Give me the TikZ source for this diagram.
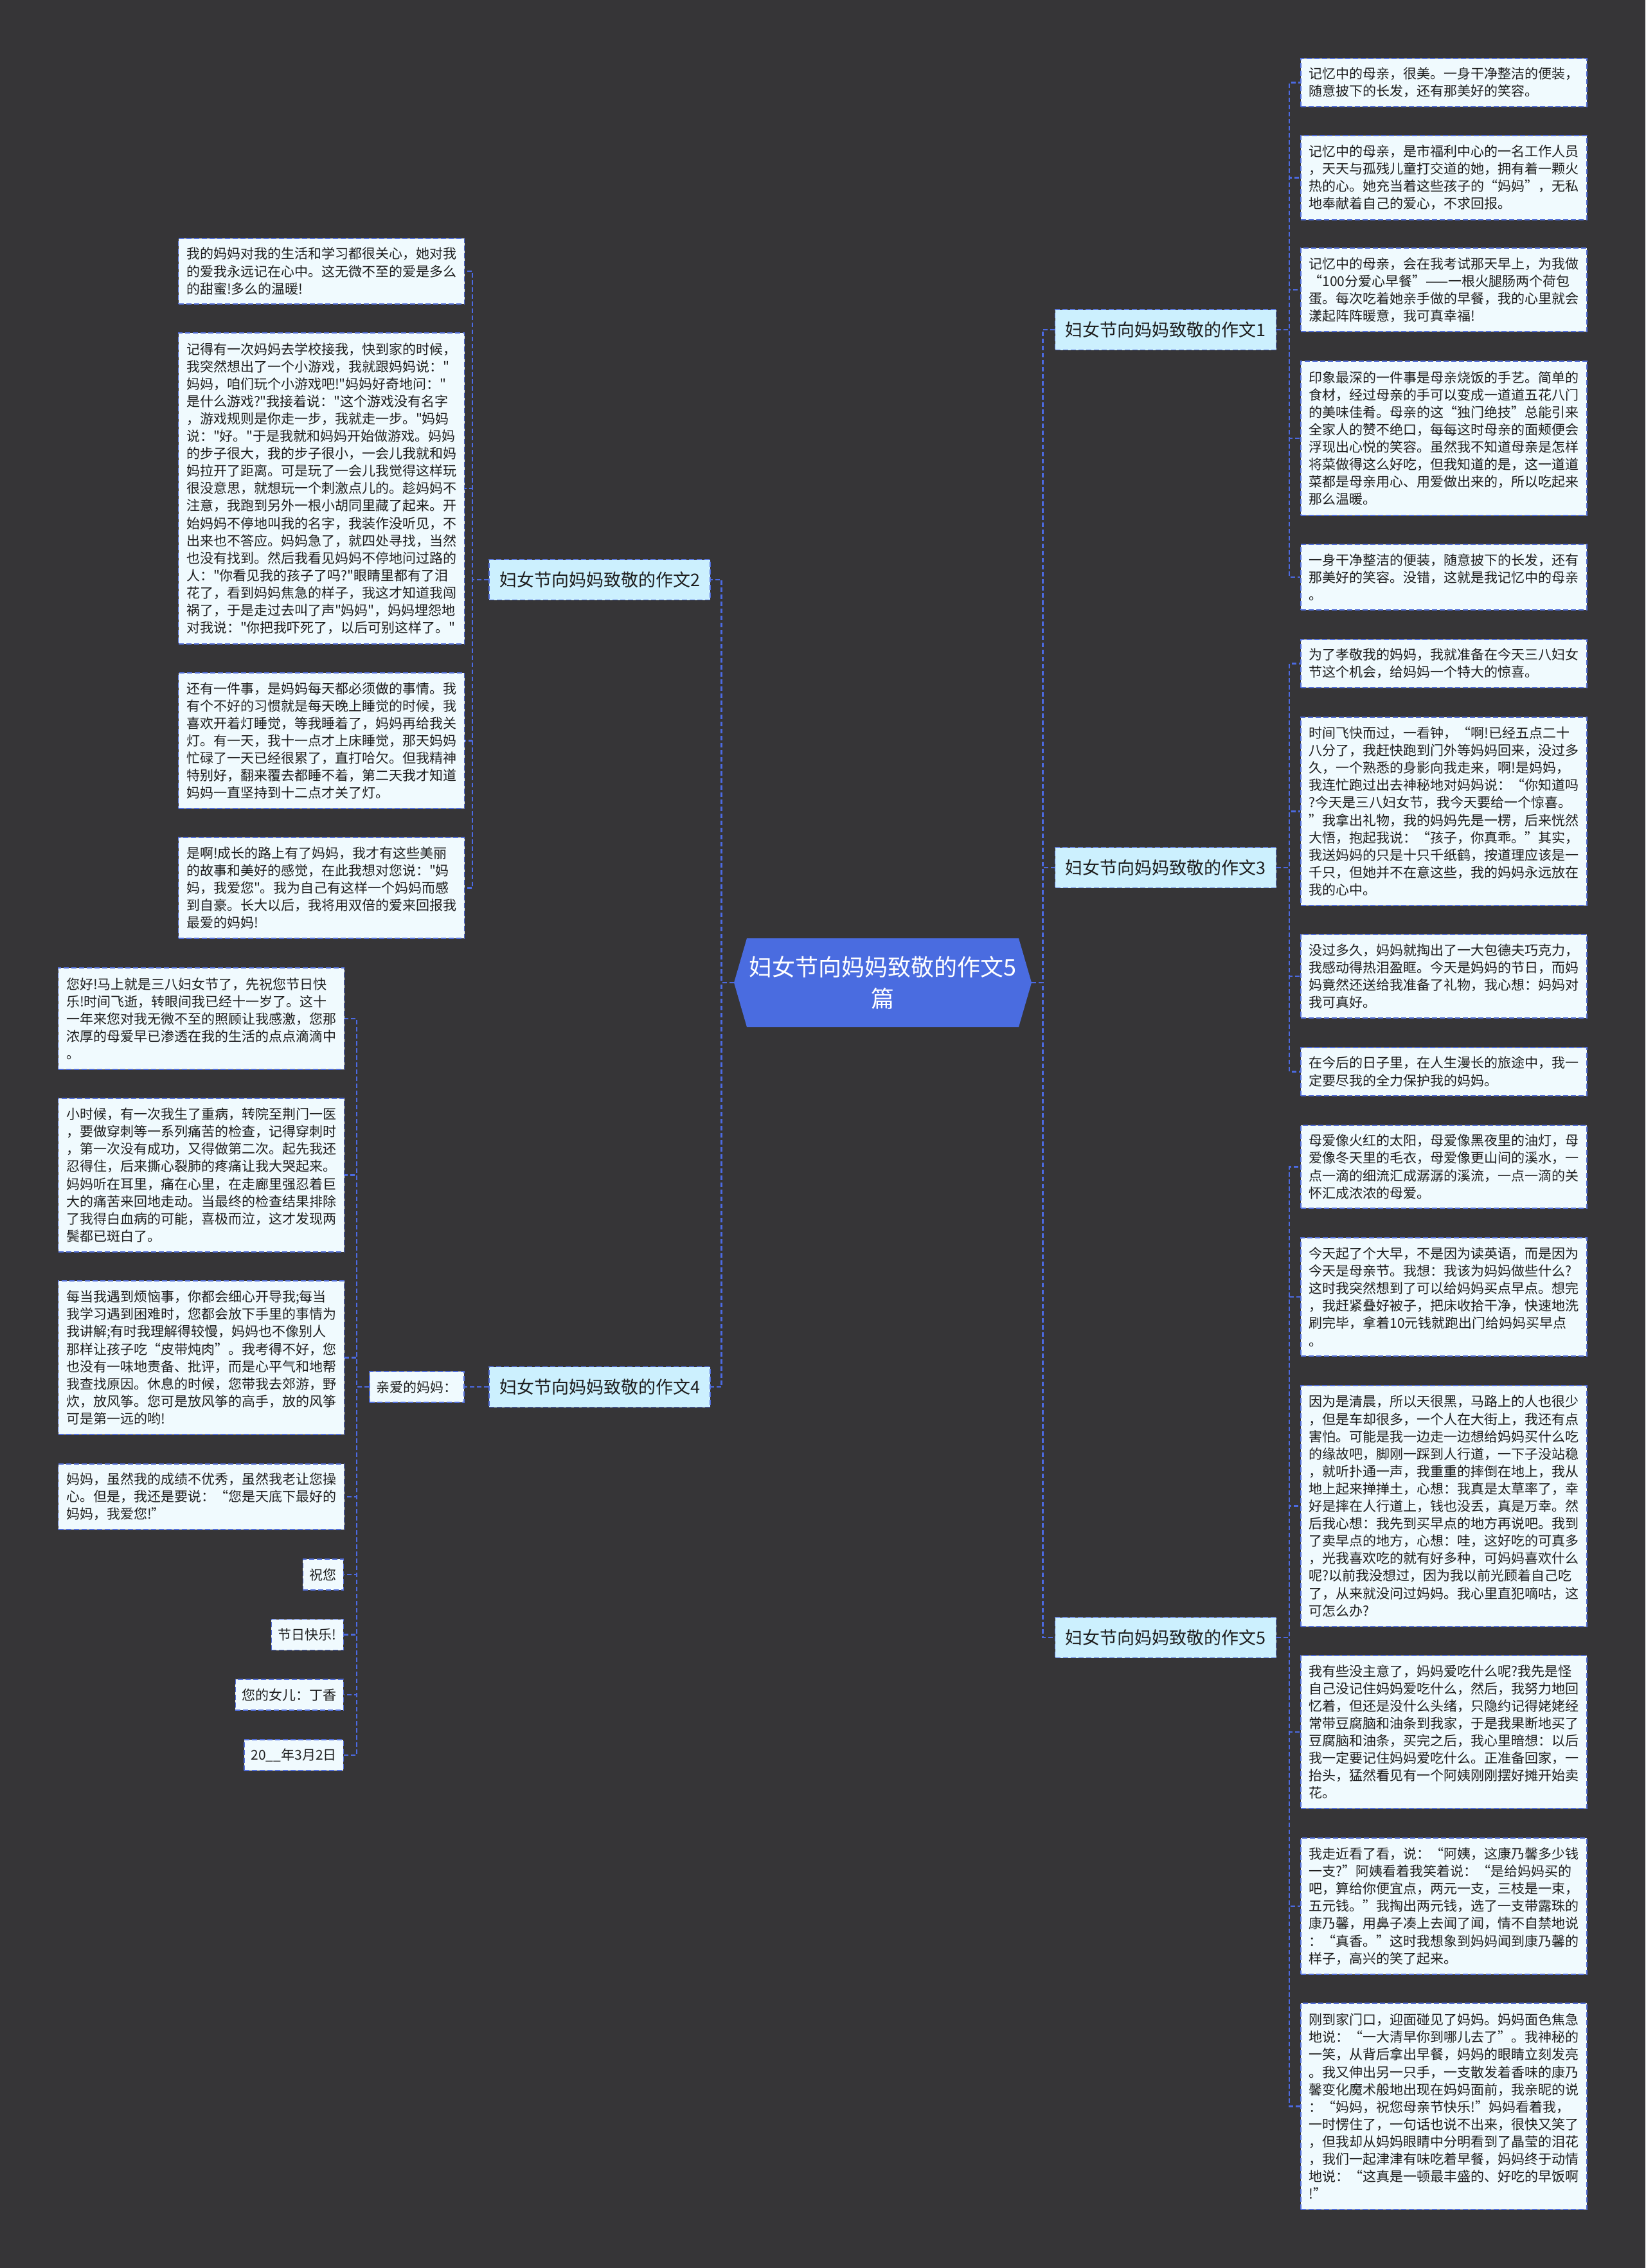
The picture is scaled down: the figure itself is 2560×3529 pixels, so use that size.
\documentclass[tikz,border=0pt]{standalone}
\usepackage{fontspec}
\setmainfont{Noto Sans CJK SC}
\newfontfamily\cjk{Noto Sans CJK SC}
\definecolor{bgc}{RGB}{54,53,55}
\definecolor{leafc}{RGB}{240,250,254}
\definecolor{branchc}{RGB}{204,240,254}
\definecolor{borderc}{RGB}{82,110,218}
\definecolor{linec}{RGB}{76,106,226}
\definecolor{centerc}{RGB}{74,108,224}
\definecolor{textc}{RGB}{30,30,30}
\begin{document}
\begin{tikzpicture}[x=0.5pt,y=-0.5pt,
  conn/.style={draw=linec, line width=1.2pt, dash pattern=on 3.5pt off 2pt},
  boxbase/.style={draw=borderc, line width=0.75pt, dash pattern=on 4pt off 2pt, text=textc},
  leaf/.style={boxbase, fill=leafc, text width=210pt, align=left, inner xsep=6.25pt, inner ysep=1pt, font=\cjk\fontsize{10.5pt}{13.55pt}\selectfont},
  small/.style={boxbase, fill=leafc, inner xsep=5.25pt, inner ysep=1pt, minimum height=24pt, font=\cjk\fontsize{10.5pt}{13.55pt}\selectfont},
  branch/.style={boxbase, fill=branchc, minimum width=172pt, minimum height=31.5pt, inner sep=1pt, font=\cjk\fontsize{13.5pt}{16pt}\selectfont},
  ctext/.style={minimum width=231.5pt, minimum height=69pt, inner sep=0pt, align=center, text=white, font=\cjk\fontsize{18pt}{24.5pt}\selectfont}
]
\fill[bgc] (0,0) rectangle (2560,3529);
\useasboundingbox (0,0) rectangle (2560,3529);

% center
\fill[centerc] (1142,1529) -- (1162,1460) -- (1585,1460) -- (1605,1529) -- (1585,1598) -- (1162,1598) -- cycle;
\node[ctext] (c) at (1373.5,1529) {妇女节向妈妈致敬的作文5\\篇};

% branches
\node[branch] (b1) at (1813.5,513) {妇女节向妈妈致敬的作文1};
\node[branch] (b3) at (1813.5,1350) {妇女节向妈妈致敬的作文3};
\node[branch] (b5) at (1813.5,2548) {妇女节向妈妈致敬的作文5};
\node[branch] (b2) at (933,902) {妇女节向妈妈致敬的作文2};
\node[branch] (b4) at (933,2158) {妇女节向妈妈致敬的作文4};
\node[small] (q) at (648.5,2158) {亲爱的妈妈：};

% right leaves, branch 1
\node[leaf, minimum height=37.5pt] (r1a) at (2246.5,128.4) {记忆中的母亲，很美。一身干净整洁的便装，\\随意披下的长发，还有那美好的笑容。};
\node[leaf, minimum height=65.5pt] (r1b) at (2246.5,276.5) {记忆中的母亲，是市福利中心的一名工作人员\\，天天与孤残儿童打交道的她，拥有着一颗火\\热的心。她充当着这些孩子的“妈妈”，无私\\地奉献着自己的爱心，不求回报。};
\node[leaf, minimum height=65pt] (r1c) at (2246.5,451) {记忆中的母亲，会在我考试那天早上，为我做\\“100分爱心早餐”——一根火腿肠两个荷包\\蛋。每次吃着她亲手做的早餐，我的心里就会\\漾起阵阵暖意，我可真幸福!};
\node[leaf, minimum height=120pt] (r1d) at (2246.5,682) {印象最深的一件事是母亲烧饭的手艺。简单的\\食材，经过母亲的手可以变成一道道五花八门\\的美味佳肴。母亲的这“独门绝技”总能引来\\全家人的赞不绝口，每每这时母亲的面颊便会\\浮现出心悦的笑容。虽然我不知道母亲是怎样\\将菜做得这么好吃，但我知道的是，这一道道\\菜都是母亲用心、用爱做出来的，所以吃起来\\那么温暖。};
\node[leaf, minimum height=51pt] (r1e) at (2246.5,898) {一身干净整洁的便装，随意披下的长发，还有\\那美好的笑容。没错，这就是我记忆中的母亲\\。};

% branch 3
\node[leaf, minimum height=37.5pt] (r3a) at (2246.5,1032.5) {为了孝敬我的妈妈，我就准备在今天三八妇女\\节这个机会，给妈妈一个特大的惊喜。};
\node[leaf, minimum height=146.5pt] (r3b) at (2246.5,1262.5) {时间飞快而过，一看钟，“啊!已经五点二十\\八分了，我赶快跑到门外等妈妈回来，没过多\\久，一个熟悉的身影向我走来，啊!是妈妈，\\我连忙跑过出去神秘地对妈妈说：“你知道吗\\?今天是三八妇女节，我今天要给一个惊喜。\\”我拿出礼物，我的妈妈先是一楞，后来恍然\\大悟，抱起我说：“孩子，你真乖。”其实，\\我送妈妈的只是十只千纸鹤，按道理应该是一\\千只，但她并不在意这些，我的妈妈永远放在\\我的心中。};
\node[leaf, minimum height=65pt] (r3c) at (2246.5,1519) {没过多久，妈妈就掏出了一大包德夫巧克力，\\我感动得热泪盈眶。今天是妈妈的节日，而妈\\妈竟然还送给我准备了礼物，我心想：妈妈对\\我可真好。};
\node[leaf, minimum height=37.5pt] (r3d) at (2246.5,1667.5) {在今后的日子里，在人生漫长的旅途中，我一\\定要尽我的全力保护我的妈妈。};

% branch 5
\node[leaf, minimum height=64.5pt] (r5a) at (2246.5,1815.5) {母爱像火红的太阳，母爱像黑夜里的油灯，母\\爱像冬天里的毛衣，母爱像更山间的溪水，一\\点一滴的细流汇成潺潺的溪流，一点一滴的关\\怀汇成浓浓的母爱。};
\node[leaf, minimum height=92pt] (r5b) at (2246.5,2018) {今天起了个大早，不是因为读英语，而是因为\\今天是母亲节。我想：我该为妈妈做些什么?\\这时我突然想到了可以给妈妈买点早点。想完\\，我赶紧叠好被子，把床收拾干净，快速地洗\\刷完毕，拿着10元钱就跑出门给妈妈买早点\\。};
\node[leaf, minimum height=187.5pt] (r5c) at (2246.5,2343.5) {因为是清晨，所以天很黑，马路上的人也很少\\，但是车却很多，一个人在大街上，我还有点\\害怕。可能是我一边走一边想给妈妈买什么吃\\的缘故吧，脚刚一踩到人行道，一下子没站稳\\，就听扑通一声，我重重的摔倒在地上，我从\\地上起来掸掸土，心想：我真是太草率了，幸\\好是摔在人行道上，钱也没丢，真是万幸。然\\后我心想：我先到买早点的地方再说吧。我到\\了卖早点的地方，心想：哇，这好吃的可真多\\，光我喜欢吃的就有好多种，可妈妈喜欢什么\\呢?以前我没想过，因为我以前光顾着自己吃\\了，从来就没问过妈妈。我心里直犯嘀咕，这\\可怎么办?};
\node[leaf, minimum height=119pt] (r5d) at (2246.5,2695) {我有些没主意了，妈妈爱吃什么呢?我先是怪\\自己没记住妈妈爱吃什么，然后，我努力地回\\忆着，但还是没什么头绪，只隐约记得姥姥经\\常带豆腐脑和油条到我家，于是我果断地买了\\豆腐脑和油条，买完之后，我心里暗想：以后\\我一定要记住妈妈爱吃什么。正准备回家，一\\抬头，猛然看见有一个阿姨刚刚摆好摊开始卖\\花。};
\node[leaf, minimum height=106pt] (r5e) at (2246.5,2966) {我走近看了看，说：“阿姨，这康乃馨多少钱\\一支?”阿姨看着我笑着说：“是给妈妈买的\\吧，算给你便宜点，两元一支，三枝是一束，\\五元钱。”我掏出两元钱，选了一支带露珠的\\康乃馨，用鼻子凑上去闻了闻，情不自禁地说\\：“真香。”这时我想象到妈妈闻到康乃馨的\\样子，高兴的笑了起来。};
\node[leaf, minimum height=160.5pt] (r5f) at (2246.5,3277.5) {刚到家门口，迎面碰见了妈妈。妈妈面色焦急\\地说：“一大清早你到哪儿去了”。我神秘的\\一笑，从背后拿出早餐，妈妈的眼睛立刻发亮\\。我又伸出另一只手，一支散发着香味的康乃\\馨变化魔术般地出现在妈妈面前，我亲昵的说\\：“妈妈，祝您母亲节快乐!”妈妈看着我，\\一时愣住了，一句话也说不出来，很快又笑了\\，但我却从妈妈眼睛中分明看到了晶莹的泪花\\，我们一起津津有味吃着早餐，妈妈终于动情\\地说：“这真是一顿最丰盛的、好吃的早饭啊\\!”};

% branch 2 leaves
\node[leaf, minimum height=51pt] (l2a) at (500,422) {我的妈妈对我的生活和学习都很关心，她对我\\的爱我永远记在心中。这无微不至的爱是多么\\的甜蜜!多么的温暖!};
\node[leaf, minimum height=242pt] (l2b) at (500,760) {记得有一次妈妈去学校接我，快到家的时候，\\我突然想出了一个小游戏，我就跟妈妈说："\\妈妈，咱们玩个小游戏吧!"妈妈好奇地问："\\是什么游戏?"我接着说："这个游戏没有名字\\，游戏规则是你走一步，我就走一步。"妈妈\\说："好。"于是我就和妈妈开始做游戏。妈妈\\的步子很大，我的步子很小，一会儿我就和妈\\妈拉开了距离。可是玩了一会儿我觉得这样玩\\很没意思，就想玩一个刺激点儿的。趁妈妈不\\注意，我跑到另外一根小胡同里藏了起来。开\\始妈妈不停地叫我的名字，我装作没听见，不\\出来也不答应。妈妈急了，就四处寻找，当然\\也没有找到。然后我看见妈妈不停地问过路的\\人："你看见我的孩子了吗?"眼睛里都有了泪\\花了，看到妈妈焦急的样子，我这才知道我闯\\祸了，于是走过去叫了声"妈妈"，妈妈埋怨地\\对我说："你把我吓死了，以后可别这样了。"};
\node[leaf, minimum height=105.5pt] (l2c) at (500,1152.5) {还有一件事，是妈妈每天都必须做的事情。我\\有个不好的习惯就是每天晚上睡觉的时候，我\\喜欢开着灯睡觉，等我睡着了，妈妈再给我关\\灯。有一天，我十一点才上床睡觉，那天妈妈\\忙碌了一天已经很累了，直打哈欠。但我精神\\特别好，翻来覆去都睡不着，第二天我才知道\\妈妈一直坚持到十二点才关了灯。};
\node[leaf, minimum height=78.5pt] (l2d) at (500,1381.5) {是啊!成长的路上有了妈妈，我才有这些美丽\\的故事和美好的感觉，在此我想对您说："妈\\妈，我爱您"。我为自己有这样一个妈妈而感\\到自豪。长大以后，我将用双倍的爱来回报我\\最爱的妈妈!};

% branch 4 leaves (under 亲爱的妈妈)
\node[leaf, minimum height=79pt] (l4a) at (313,1585) {您好!马上就是三八妇女节了，先祝您节日快\\乐!时间飞逝，转眼间我已经十一岁了。这十\\一年来您对我无微不至的照顾让我感激，您那\\浓厚的母爱早已渗透在我的生活的点点滴滴中\\。};
\node[leaf, minimum height=119.5pt] (l4b) at (313,1828.5) {小时候，有一次我生了重病，转院至荆门一医\\，要做穿刺等一系列痛苦的检查，记得穿刺时\\，第一次没有成功，又得做第二次。起先我还\\忍得住，后来撕心裂肺的疼痛让我大哭起来。\\妈妈听在耳里，痛在心里，在走廊里强忍着巨\\大的痛苦来回地走动。当最终的检查结果排除\\了我得白血病的可能，喜极而泣，这才发现两\\鬓都已斑白了。};
\node[leaf, minimum height=119.5pt] (l4c) at (313,2112.5) {每当我遇到烦恼事，你都会细心开导我;每当\\我学习遇到困难时，您都会放下手里的事情为\\我讲解;有时我理解得较慢，妈妈也不像别人\\那样让孩子吃“皮带炖肉”。我考得不好，您\\也没有一味地责备、批评，而是心平气和地帮\\我查找原因。休息的时候，您带我去郊游，野\\炊，放风筝。您可是放风筝的高手，放的风筝\\可是第一远的哟!};
\node[leaf, minimum height=51pt] (l4d) at (313,2329) {妈妈，虽然我的成绩不优秀，虽然我老让您操\\心。但是，我还是要说：“您是天底下最好的\\妈妈，我爱您!”};
\node[small, anchor=east] (s1) at (535,2450) {祝您};
\node[small, anchor=east] (s2) at (535,2543.5) {节日快乐!};
\node[small, anchor=east] (s3) at (535,2637) {您的女儿：丁香};
\node[small, anchor=east] (s4) at (535,2731) {20\_\_年3月2日};

% connectors: trunk
\foreach \b in {b1,b3,b5} \draw[conn] (c.east) -- ++(17,0) |- (\b.west);
\foreach \b in {b2,b4} \draw[conn] (c.west) -- ++(-19,0) |- (\b.east);
% leaves
\foreach \n in {r1a,r1b,r1c,r1d,r1e} \draw[conn] (b1.east) -- ++(20,0) |- (\n.west);
\foreach \n in {r3a,r3b,r3c,r3d} \draw[conn] (b3.east) -- ++(20,0) |- (\n.west);
\foreach \n in {r5a,r5b,r5c,r5d,r5e,r5f} \draw[conn] (b5.east) -- ++(20,0) |- (\n.west);
\foreach \n in {l2a,l2b,l2c,l2d} \draw[conn] (b2.west) -- ++(-25,0) |- (\n.east);
\draw[conn] (b4.west) -- (q.east);
\foreach \n in {l4a,l4b,l4c,l4d,s1,s2,s3,s4} \draw[conn] (q.west) -- ++(-19,0) |- (\n.east);
\end{tikzpicture}
\end{document}
